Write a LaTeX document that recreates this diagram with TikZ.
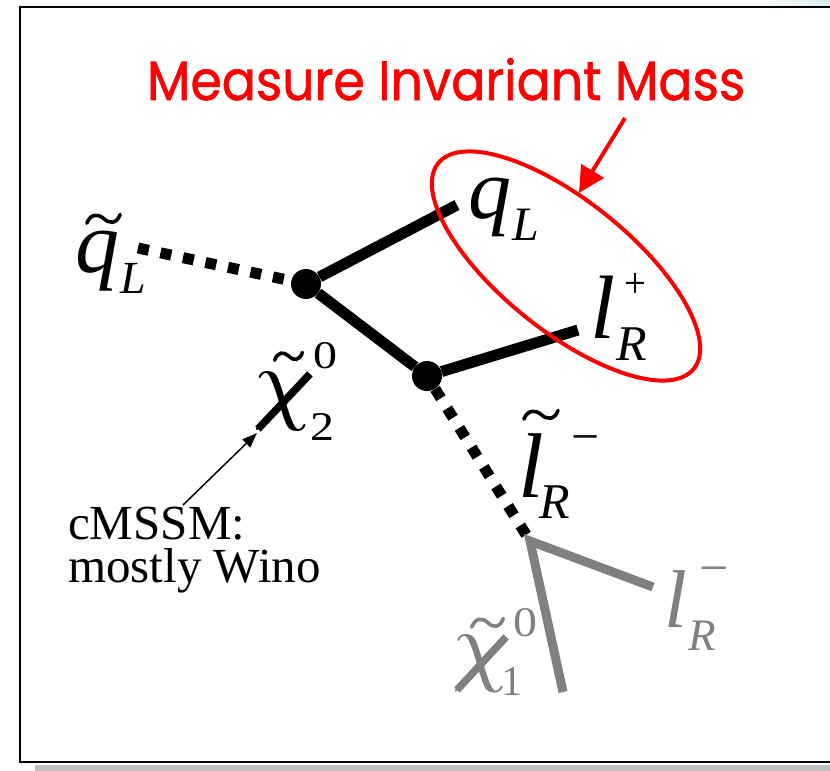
\documentclass[tikz,border=0pt]{standalone}
\usepackage{fontspec}
\setmainfont{Liberation Serif}
\newfontfamily\titlefont[FakeBold=1.2]{Poppins}
\usetikzlibrary{arrows.meta,shapes.geometric}
\newcommand\fsz[1]{\fontsize{#1}{#1}\selectfont}
\newcommand\wavytilde[5]{% x, y, width, height, colour
  \draw[line width=3.6pt, line cap=round, #5, shift={(#1,#2)}, xscale=#3, yscale=#4]
    (0.05,0.85) .. controls (0.15,0.05) and (0.35,0.05) .. (0.5,0.45)
    .. controls (0.65,0.9) and (0.85,0.95) .. (0.95,0.12);}
\definecolor{pgrey}{RGB}{128,128,128}
\begin{document}
\begin{tikzpicture}[x=1pt,y=-1pt,
  lab/.style={anchor=base west, inner sep=0pt, outer sep=0pt},
  vtx/.style={circle, fill=black, minimum size=30pt, inner sep=0pt},
  solidline/.style={line width=11pt, black},
  dotline/.style={line width=11pt, black, dash pattern=on 11pt off 12pt},
  greyline/.style={line width=9pt, pgrey, line join=miter},
  chistroke/.style={line width=7.5pt},
  redarrow/.style={line width=4pt, red, -{Triangle[length=26pt,width=26pt]}},
  thinarrow/.style={line width=1.5pt, black, -{Triangle[length=15pt,width=11pt]}}]
\useasboundingbox (0,0) rectangle (830,771);
% frame
\shade[left color=white, right color={rgb,255:red,215;green,235;blue,235}] (760,0) rectangle (830,6);
\fill[gray!50] (35,764.5) rectangle (830,771);
\draw[line width=2.5pt] (835,7) -- (20,7) -- (20,762) -- (835,762);
% title
\node[lab, red] (title) at (147,100) {\resizebox{598pt}{42pt}{\titlefont Measure Invariant Mass}};
% vertices and end points
\node[vtx] (A) at (306,284) {};
\node[vtx] (B) at (427,376) {};
\coordinate (sqend) at (138,248);
\coordinate (qLend) at (457,205);
\coordinate (lpend) at (578,330);
\coordinate (C) at (530,541);
\coordinate (lmend) at (653,587);
\coordinate (chiend) at (563,692);
% connectors
\draw[dotline] (sqend) -- (A);
\draw[solidline] (A) -- (qLend);
\draw[solidline] (A) -- (B);
\draw[solidline] (B) -- (lpend);
\draw[dotline] (B) -- (C);
\draw[greyline] (lmend) -- (C) -- (chiend);
% ellipse and red arrow
\node[draw=red, line width=4pt, ellipse, minimum width=328pt, minimum height=130pt,
  inner sep=0pt, rotate=-38.8] (ell) at (566,266) {};
\coordinate (rtail) at (625,118);
\coordinate (rtip) at (579,193);
\draw[redarrow] (rtail) -- (rtip);
% squark label
\node[lab] (sq) at (75,272) {\fsz{88}\itshape q};
\node[lab] (sqL) at (120,293) {\fsz{46}\itshape L};
\wavytilde{85}{213}{37}{12}{black}
% q_L
\node[lab] (q) at (468,218) {\fsz{86}\itshape q};
\node[lab] (qL) at (512,240) {\fsz{48}\itshape L};
% l_R^+
\node[lab] (lp) at (590,338) {\fsz{90}\itshape l};
\node[lab] (lpR) at (616,360) {\fsz{50}\itshape R};
\node[lab] (lpplus) at (624,297) {\resizebox{22pt}{24pt}{+}};
% chi_2^0
\node[lab] (chi2) at (253,412) {\resizebox{58pt}{40pt}{$\chi$}};
\draw[chistroke] (310,374) -- (258,429);
\wavytilde{273}{351}{31}{11}{black}
\node[lab] (chi2sup) at (313,368) {\resizebox{24pt}{26pt}{0}};
\node[lab] (chi2sub) at (310,440) {\resizebox{24pt}{27pt}{2}};
% slepton
\node[lab] (sl) at (518,497) {\fsz{92}\itshape l};
\wavytilde{522}{409}{38}{12}{black}
\node[lab] (slR) at (539,518) {\fsz{50}\itshape R};
\node[lab] (slminus) at (571,453) {\fsz{50}−};
% grey lepton
\node[lab, pgrey] (gl) at (664,627) {\fsz{82}\itshape l};
\node[lab, pgrey] (glR) at (688,650) {\fsz{45}\itshape R};
\node[lab, pgrey] (glminus) at (699,585) {\fsz{52}−};
% grey chi_1^0
\node[lab, pgrey] (chi1) at (452,674) {\resizebox{56pt}{39pt}{$\chi$}};
\draw[chistroke, pgrey] (506,637) -- (457,690);
\wavytilde{470}{617}{35}{12}{pgrey}
\node[lab, pgrey] (chi1sup) at (513,636) {\resizebox{24pt}{28pt}{0}};
\node[lab, pgrey] (chi1sub) at (501,695) {\resizebox{!}{28pt}{1}};
% cMSSM note
\node[anchor=north west, inner sep=0pt, align=left, font=\fontsize{49}{43}\selectfont]
  (note) at (68,507) {cMSSM:\\mostly Wino};
\coordinate (wtail) at (183,505);
\coordinate (wtip) at (257,433);
\draw[thinarrow] (wtail) -- (wtip);
\end{tikzpicture}
\end{document}
